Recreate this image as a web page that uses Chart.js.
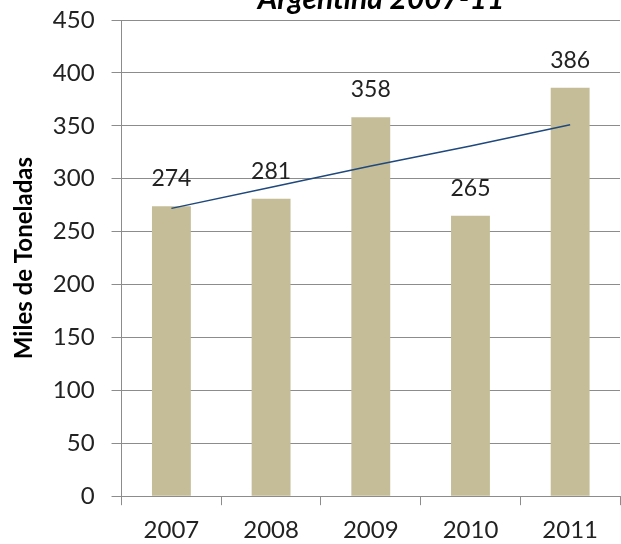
<!DOCTYPE html>
<html lang="es">
<head>
    <meta charset="UTF-8">
    <title>Argentina 2007-11</title>
    <script src="https://cdn.jsdelivr.net/npm/chart.js"></script>
    <style>
        html, body { margin: 0; padding: 0; background: #fff; }
        #wrap { width: 621px; height: 544px; }
    </style>
</head>
<body>
    <div id="wrap"><canvas id="chart" width="621" height="544"></canvas></div>

    <script>
        const years = ['2007', '2008', '2009', '2010', '2011'];
        const tonnes = [274, 281, 358, 265, 386];
        // trend line
        const trend = [272, 292, 312, 331, 351];
        const yTicks = [0, 50, 100, 150, 200, 250, 300, 350, 400, 450];

        const fontFamily = 'Lato, "Open Sans", sans-serif';

        // value labels above the bars
        const barLabels = {
            id: 'barLabels',
            afterDatasetsDraw(chart) {
                const ctx = chart.ctx;
                const meta = chart.getDatasetMeta(1);
                ctx.save();
                ctx.font = '23px ' + fontFamily;
                ctx.fillStyle = '#222';
                ctx.textAlign = 'center';
                ctx.textBaseline = 'alphabetic';
                meta.data.forEach((bar, i) => {
                    ctx.fillText(String(tonnes[i]), bar.x, bar.y - 20);
                });
                ctx.restore();
            }
        };

        // title sits partly above the top edge, as in the original
        const topTitle = {
            id: 'topTitle',
            afterDraw(chart) {
                const ctx = chart.ctx;
                ctx.save();
                ctx.font = 'italic bold 30px ' + fontFamily;
                ctx.fillStyle = '#000';
                ctx.textAlign = 'center';
                ctx.textBaseline = 'alphabetic';
                ctx.fillText('Argentina 2007-11', 381, 9);
                ctx.restore();
            }
        };

        new Chart(document.getElementById('chart'), {
            type: 'bar',
            data: {
                labels: years,
                datasets: [
                    {
                        type: 'line',
                        data: trend,
                        borderColor: '#1F497D',
                        borderWidth: 1.5,
                        pointRadius: 0,
                        fill: false,
                        tension: 0,
                        order: 0
                    },
                    {
                        data: tonnes,
                        backgroundColor: '#C4BD97',
                        barPercentage: 0.39,
                        categoryPercentage: 1,
                        order: 1
                    }
                ]
            },
            options: {
                responsive: false,
                animation: false,
                layout: { padding: { top: 0, right: 1, left: 10, bottom: -12 } },
                plugins: {
                    legend: { display: false },
                    tooltip: { enabled: false }
                },
                scales: {
                    x: {
                        grid: {
                            display: true,
                            offset: true,
                            drawOnChartArea: false,
                            drawTicks: true,
                            tickLength: 9,
                            color: '#8c8c8c'
                        },
                        border: { color: '#8c8c8c' },
                        ticks: {
                            color: '#222',
                            font: { family: fontFamily, size: 24 },
                            padding: 11
                        }
                    },
                    y: {
                        min: 0,
                        max: 450,
                        afterBuildTicks(axis) {
                            axis.ticks = yTicks.map(v => ({ value: v }));
                        },
                        // the tick padding would otherwise push the top gridline down
                        afterFit(axis) {
                            axis.paddingTop = 20;
                        },
                        grid: {
                            color: '#8c8c8c',
                            drawTicks: true,
                            tickLength: 10
                        },
                        border: { color: '#8c8c8c' },
                        ticks: {
                            color: '#222',
                            font: { family: fontFamily, size: 24 },
                            padding: 17
                        },
                        title: {
                            display: true,
                            text: 'Miles de Toneladas',
                            color: '#000',
                            font: { family: fontFamily, size: 24, weight: 'bold' },
                            padding: { top: 0, bottom: -3 }
                        }
                    }
                }
            },
            plugins: [barLabels, topTitle]
        });
    </script>
</body>
</html>
